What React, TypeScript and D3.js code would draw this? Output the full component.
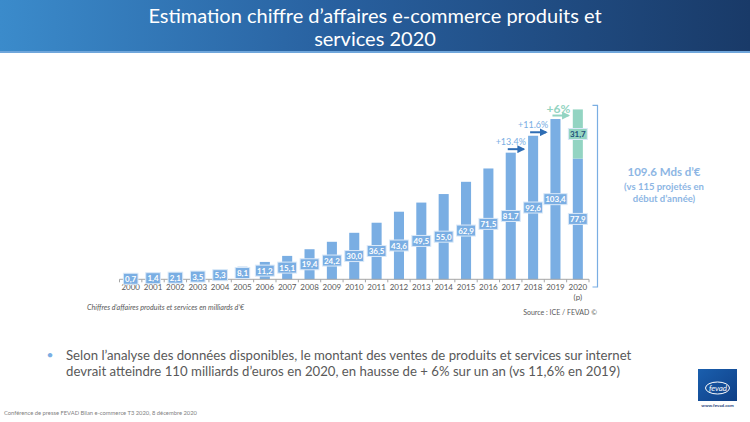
import React from 'react';
import * as d3 from 'd3';

const years = ['2000','2001','2002','2003','2004','2005','2006','2007','2008','2009','2010','2011','2012','2013','2014','2015','2016','2017','2018','2019','2020'];
const baseValues = [0.7,1.4,2.1,3.5,5.3,8.1,11.2,15.1,19.4,24.2,30.0,36.5,43.6,49.5,55.0,62.9,71.5,81.7,92.6,103.4,77.9];
const projectedValues = [0,0,0,0,0,0,0,0,0,0,0,0,0,0,0,0,0,0,0,0,31.7];
const growthYears = ['2017','2018','2019'];
const growthLabels = ['+13.4%','+11.6%','+6%'];

const BLUE = '#7aaee3';
const GREEN = '#93d4c2';
const GREY = '#595959';
const FONT = 'Lato, "Open Sans", sans-serif';

const fmt = (v: number) => d3.format('.1f')(v).replace('.', ',');

export default function App() {
  const W = 750, H = 422;
  const x = d3.scaleBand<string>().domain(years).range([119.5, 589]).paddingInner(0.55).paddingOuter(0.275);
  const y = d3.scaleLinear().domain([0, 110]).range([279.3, 279.3 - 110 * 1.55]);
  const bw = x.bandwidth();
  const step = x.step();
  const cx = (yr: string) => (x(yr) as number) + bw / 2;

  const labelW = (s: string) => s.replace(',', '').length * 4.3 + 2 + 4;

  const renderLabel = (txt: string, xc: number, yc: number, fill: string, color: string, key: string) => {
    const w = labelW(txt);
    return (
      <g key={key}>
        <rect x={xc - w / 2} y={yc - 5.5} width={w} height={11} fill={fill} stroke="#dbe9f8" strokeWidth={1} />
        <text x={xc} y={yc + 3} textAnchor="middle" fontSize={8} fontWeight={700} fill={color} fontFamily={FONT}>{txt}</text>
      </g>
    );
  };

  const total2020 = baseValues[20] + projectedValues[20];

  return (
    <svg width={W} height={H} style={{ position: 'absolute', left: 0, top: 0, background: '#fff' }}>
      <defs>
        <linearGradient id="banner" x1="0" y1="0" x2="1" y2="0">
          <stop offset="0" stopColor="#3b8bcb" />
          <stop offset="0.45" stopColor="#28609f" />
          <stop offset="1" stopColor="#193a68" />
        </linearGradient>
        <linearGradient id="logo" x1="0" y1="0" x2="1" y2="1">
          <stop offset="0" stopColor="#1a5fae" />
          <stop offset="1" stopColor="#0f3f86" />
        </linearGradient>
        <marker id="arrB" viewBox="0 0 10 10" refX="8" refY="5" markerWidth="4" markerHeight="4" orient="auto">
          <path d="M0,0 L10,5 L0,10 z" fill="#2e6db4" />
        </marker>
        <marker id="arrG" viewBox="0 0 10 10" refX="8" refY="5" markerWidth="4" markerHeight="4" orient="auto">
          <path d="M0,0 L10,5 L0,10 z" fill={GREEN} />
        </marker>
      </defs>

      {/* Title banner */}
      <rect x={0} y={0} width={W} height={51} fill="url(#banner)" />
      <rect x={0} y={51} width={W} height={2} fill="#6fa6db" />
      <text x={375} y={23} textAnchor="middle" fill="#fff" fontSize={20} fontFamily={FONT}>Estimation chiffre d’affaires e-commerce produits et</text>
      <text x={375} y={46} textAnchor="middle" fill="#fff" fontSize={20} fontFamily={FONT}>services 2020</text>

      {/* Bars */}
      {years.map((yr, i) => (
        <rect key={'b' + yr} x={x(yr)} y={y(baseValues[i])} width={bw} height={y(0) - y(baseValues[i])} fill={BLUE} />
      ))}
      {years.map((yr, i) => projectedValues[i] > 0 ? (
        <rect key={'p' + yr} x={x(yr)} y={y(baseValues[i] + projectedValues[i])} width={bw} height={y(baseValues[i]) - y(baseValues[i] + projectedValues[i])} fill={GREEN} />
      ) : null)}

      {/* Axis */}
      <line x1={119.5} x2={589} y1={y(0)} y2={y(0)} stroke="#a6a6a6" strokeWidth={1} />
      {d3.range(years.length + 1).map(k => (
        <line key={'t' + k} x1={119.5 + k * step} x2={119.5 + k * step} y1={y(0)} y2={y(0) + 3} stroke="#a6a6a6" strokeWidth={1} />
      ))}
      {years.map(yr => (
        <text key={'y' + yr} x={cx(yr)} y={y(0) + 11} textAnchor="middle" fontSize={8} fill={GREY} fontFamily={FONT}>{yr}</text>
      ))}
      <text x={cx('2020')} y={y(0) + 21} textAnchor="middle" fontSize={8} fill={GREY} fontFamily={FONT}>(p)</text>

      {/* Value labels */}
      {years.map((yr, i) => renderLabel(fmt(baseValues[i]), cx(yr), (y(0) + y(baseValues[i])) / 2, BLUE, '#ffffff', 'l' + yr))}
      {years.map((yr, i) => projectedValues[i] > 0
        ? renderLabel(fmt(projectedValues[i]), cx(yr), (y(baseValues[i]) + y(baseValues[i] + projectedValues[i])) / 2, GREEN, '#1f4e79', 'pl' + yr)
        : null)}

      {/* Growth arrows */}
      {growthYears.map((yr, k) => {
        const i = years.indexOf(yr);
        const top = y(baseValues[i]);
        const c = cx(yr);
        const last = k === growthYears.length - 1;
        return (
          <g key={'g' + yr}>
            <line x1={c - 3} x2={c + 13} y1={top - 3.5} y2={top - 3.5} stroke={last ? GREEN : '#2e6db4'} strokeWidth={2} markerEnd={last ? 'url(#arrG)' : 'url(#arrB)'} />
            <text x={c + (last ? 3 : 0)} y={top - (last ? 6 : 8)} textAnchor="middle" fontSize={last ? 12 : 9} fill={last ? GREEN : BLUE} fontWeight={last ? 700 : 400} fontFamily={FONT}>{growthLabels[k]}</text>
          </g>
        );
      })}

      {/* Bracket */}
      <path d={`M592.5,${y(total2020) - 4} H597.5 V287 H592.5`} fill="none" stroke={BLUE} strokeWidth={1.2} />
      <text x={664} y={176} textAnchor="middle" fontSize={11.5} fontWeight={700} fill="#8db6e4" fontFamily={FONT}>109.6 Mds d’€</text>
      <text x={664} y={189.5} textAnchor="middle" fontSize={9.5} fontWeight={700} fill="#8db6e4" fontFamily={FONT}>(vs 115 projetés en</text>
      <text x={664} y={202} textAnchor="middle" fontSize={9.5} fontWeight={700} fill="#8db6e4" fontFamily={FONT}>début d’année)</text>

      {/* Notes */}
      <text x={87} y={310} fontSize={7.2} fontStyle="italic" fill={GREY} fontFamily={FONT}>Chiffres d’affaires produits et services en milliards d’€</text>
      <text x={597} y={315} textAnchor="end" fontSize={7} fill={GREY} fontFamily={FONT}>Source : ICE / FEVAD ©</text>

      {/* Bullet text */}
      <text x={50} y={359} textAnchor="middle" fontSize={12} fill="#7aaee3" fontFamily={FONT}>•</text>
      <text x={66} y={360} fontSize={13.2} fill={GREY} fontFamily={FONT}>Selon l’analyse des données disponibles, le montant des ventes de produits et services sur internet</text>
      <text x={66} y={376} fontSize={13.2} fill={GREY} fontFamily={FONT}>devrait atteindre 110 milliards d’euros en 2020, en hausse de + 6% sur un an (vs 11,6% en 2019)</text>

      {/* Footer */}
      <text x={4} y={415} fontSize={5.8} fill="#7f7f7f" fontFamily={FONT}>Conférence de presse FEVAD Bilan e-commerce T3 2020,  8 décembre 2020</text>

      {/* Logo */}
      <rect x={698} y={369} width={39} height={32} fill="url(#logo)" />
      <ellipse cx={717.5} cy={388} rx={12} ry={6} fill="none" stroke="#fff" strokeWidth={1} />
      <text x={718} y={391} textAnchor="middle" fontSize={8} fill="#fff" fontFamily={FONT} fontStyle="italic">fevad</text>
      <text x={717.5} y={407} textAnchor="middle" fontSize={4.5} fill="#1f3f7a" fontWeight={700} fontFamily={FONT}>www.fevad.com</text>
    </svg>
  );
}
